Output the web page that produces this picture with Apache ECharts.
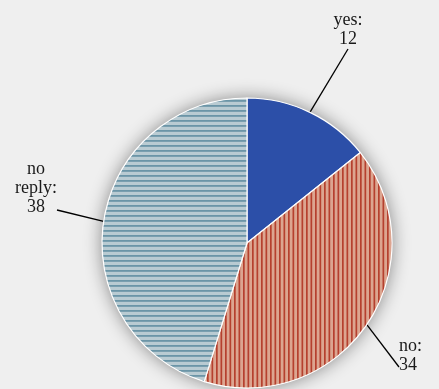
<!DOCTYPE html>
<html>
<head>
<meta charset="utf-8">
<script src="https://cdn.jsdelivr.net/npm/echarts@6/dist/echarts.min.js"></script>
<style>
html, body { margin: 0; padding: 0; background: #efefef; }
#chart { width: 439px; height: 389px; }
</style>
</head>
<body>
<div id="chart"></div>
<script>
var names = ['yes', 'no', 'no reply'];
var values = [12, 34, 38];
var labelText = ['yes:\n12', 'no:\n34', 'no\nreply:\n38'];

// striped fills (two stripes per tile)
function stripes(bg, fg, vertical, size, w) {
    var c = document.createElement('canvas');
    c.width = size; c.height = size;
    var ctx = c.getContext('2d');
    ctx.fillStyle = bg;
    ctx.fillRect(0, 0, size, size);
    ctx.fillStyle = fg;
    if (vertical) {
        ctx.fillRect(0, 0, w, size);
        ctx.fillRect(size / 2, 0, w, size);
    } else {
        ctx.fillRect(0, 0, size, w);
        ctx.fillRect(0, size / 2, size, w);
    }
    return c;
}
var fills = [
    '#2c4fa8',
    { image: stripes('#dca590', '#b5402e', true, 9, 1.7), repeat: 'repeat' },
    { image: stripes('#b9cbd2', '#6b95a7', false, 10, 1.8), repeat: 'repeat' }
];
// label boxes: x, y(top), align, padding (padding only steers where the guide line meets the box)
var labelBox = [
    [348, 11, 'center', [0, 0, 0, 0]],
    [399, 337, 'left', [0, 40, 22, 0]],
    [36, 160, 'center', [0, 0, 43, 0]]
];

var myChart = echarts.init(document.getElementById('chart'));
var option = {
    backgroundColor: '#efefef',
    animation: false,
    series: [
        {
            type: 'pie',
            silent: true,
            center: [247, 243],
            radius: 145,
            startAngle: 90,
            clockwise: true,
            label: { show: false },
            labelLine: { show: false },
            itemStyle: {
                color: '#ffffff',
                shadowBlur: 18,
                shadowColor: 'rgba(0,0,0,0.45)'
            },
            data: [{ value: values.reduce(function (a, b) { return a + b; }, 0) }]
        },
        {
            type: 'pie',
            center: [247, 243],
            radius: 145,
            startAngle: 90,
            clockwise: true,
            itemStyle: {
                borderColor: '#ffffff',
                borderWidth: 1.2
            },
            label: {
                show: true,
                position: 'outside',
                overflow: 'none',
                fontFamily: 'Liberation Serif',
                fontSize: 18,
                lineHeight: 19,
                color: '#1a1a1a',
                formatter: function (p) { return labelText[p.dataIndex]; }
            },
            labelLine: {
                show: true,
                length: 20,
                length2: 0,
                lineStyle: { color: '#000', width: 1.3 }
            },
            labelLayout: function (p) {
                var b = labelBox[p.dataIndex];
                return { x: b[0], y: b[1], align: b[2], verticalAlign: 'top' };
            },
            data: names.map(function (n, i) {
                return {
                    name: n,
                    value: values[i],
                    itemStyle: { color: fills[i] },
                    label: { padding: labelBox[i][3] }
                };
            })
        }
    ]
};
myChart.setOption(option);
</script>
</body>
</html>
